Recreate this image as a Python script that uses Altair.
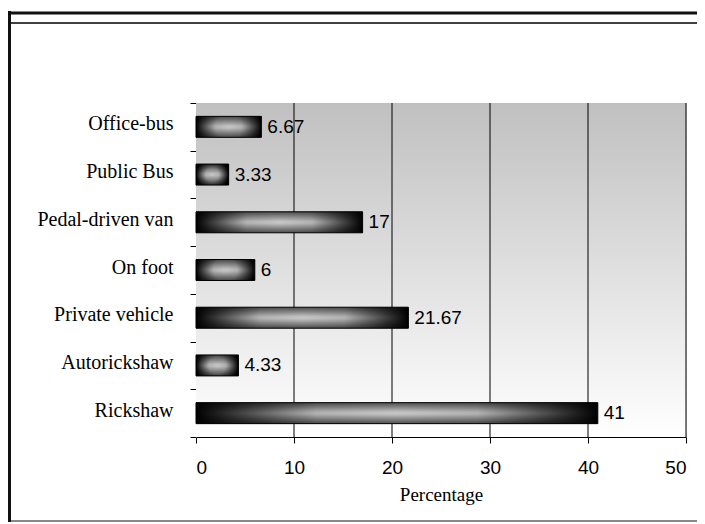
import altair as alt
import pandas as pd

categories = ["Office-bus", "Public Bus", "Pedal-driven van", "On foot",
              "Private vehicle", "Autorickshaw", "Rickshaw"]
values = [6.67, 3.33, 17, 6, 21.67, 4.33, 41]
value_labels = ["6.67", "3.33", "17", "6", "21.67", "4.33", "41"]
x_ticks = [0, 10, 20, 30, 40, 50]

df = pd.DataFrame({"mode": categories, "pct": values, "label": value_labels})
grid_df = pd.DataFrame({"g": x_ticks[1:]})
one = pd.DataFrame({"a": [0]})

W, H = 490, 334

y_enc = alt.Y(
    "mode:N", sort=categories,
    scale=alt.Scale(paddingInner=0, paddingOuter=0),
    axis=alt.Axis(title=None, tickBand="extent", labelFont="Liberation Serif",
                  labelFontSize=20, labelColor="black", tickColor="black",
                  tickSize=6, labelPadding=17, labelOffset=-3,
                  domainColor="#909090", grid=False),
)
x_scale = alt.Scale(domain=[0, 50], nice=False, zero=True)
x_enc = alt.X(
    "pct:Q", scale=x_scale,
    axis=alt.Axis(values=x_ticks, title="Percentage", grid=False,
                  labelFont="Liberation Sans", labelFontSize=19, labelColor="black",
                  tickColor="black", tickSize=6, labelPadding=15,
                  domainColor="black", titleFont="Liberation Serif",
                  titleFontSize=19, titleFontWeight="normal", titleColor="black",
                  titlePadding=8),
)

bg = alt.Chart(one).mark_rect(
    fill=alt.LinearGradient(gradient="linear", x1=0, y1=0, x2=0, y2=1,
                            stops=[alt.GradientStop(offset=0, color="#c0c0c0"),
                                   alt.GradientStop(offset=1, color="#ffffff")])
).encode(x=alt.value(0), x2=alt.value(W), y=alt.value(0), y2=alt.value(H))

grid = alt.Chart(grid_df).mark_rule(color="black", strokeWidth=1).encode(
    x=alt.X("g:Q", scale=x_scale), y=alt.value(0), y2=alt.value(H)
)

bars = alt.Chart(df).mark_bar(
    size=21, stroke="black", strokeWidth=1,
    fill=alt.RadialGradient(gradient="radial", x1=0.5, y1=0.5, r1=0, x2=0.5, y2=0.5, r2=0.5,
                            stops=[alt.GradientStop(offset=0, color="#c4c4c4"),
                                   alt.GradientStop(offset=0.4, color="#b0b0b0"),
                                   alt.GradientStop(offset=1, color="#000000")])
).encode(x=x_enc, y=y_enc)

shade = alt.Chart(df).mark_bar(
    size=21,
    fill=alt.LinearGradient(gradient="linear", x1=0, y1=0, x2=0, y2=1,
                            stops=[alt.GradientStop(offset=0, color="rgba(0,0,0,0.6)"),
                                   alt.GradientStop(offset=0.45, color="rgba(0,0,0,0)"),
                                   alt.GradientStop(offset=0.55, color="rgba(0,0,0,0)"),
                                   alt.GradientStop(offset=1, color="rgba(0,0,0,0.6)")])
).encode(x=alt.X("pct:Q", scale=x_scale), y=alt.Y("mode:N", sort=categories))

text = alt.Chart(df).mark_text(
    align="left", baseline="middle", dx=6, font="Liberation Sans", fontSize=19, color="black"
).encode(x=alt.X("pct:Q", scale=x_scale), y=alt.Y("mode:N", sort=categories), text="label:N")

f_left = alt.Chart(one).mark_rule(color="#111111", strokeWidth=3).encode(
    x=alt.value(-186.5), y=alt.value(-92), y2=alt.value(419))
f_top = alt.Chart(one).mark_rule(color="#111111", strokeWidth=3).encode(
    x=alt.value(-188), x2=alt.value(520), y=alt.value(-90))
f_thin = alt.Chart(one).mark_rule(color="black", strokeWidth=1.5).encode(
    x=alt.value(-185), x2=alt.value(520), y=alt.value(-80))
f_bottom = alt.Chart(one).mark_rule(color="#888888", strokeWidth=2).encode(
    x=alt.value(-185), x2=alt.value(520), y=alt.value(418))

chart = alt.layer(bg, grid, bars, shade, text, f_left, f_top, f_thin, f_bottom).properties(
    width=W, height=H,
    autosize=alt.AutoSizeParams(type="none"),
    padding={"left": 188, "top": 95, "right": 11, "bottom": 87},
).configure_view(stroke=None).configure(background="white")

chart.save("out.html", embed_options={"renderer": "svg", "actions": False})
